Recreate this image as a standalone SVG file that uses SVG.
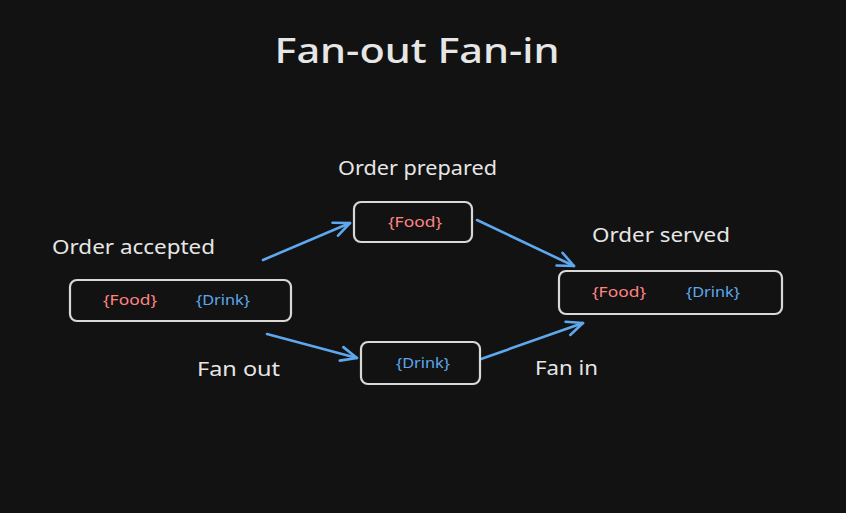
<svg xmlns="http://www.w3.org/2000/svg" width="846" height="513" viewBox="0 0 846 513">
<style>
.bg{fill:#121212}
.box{fill:#121212;stroke:#d8d8d8;stroke-width:2.2}
.lbl{font-family:"Noto Sans","Liberation Sans",sans-serif;fill:#e6e6e6;font-size:20px}
.title{font-family:"Noto Sans","Liberation Sans",sans-serif;fill:#e6e6e6;font-size:34px;font-weight:500}
.food{font-family:"Noto Sans","Liberation Sans",sans-serif;fill:#ff8383;font-size:14px}
.drink{font-family:"Noto Sans","Liberation Sans",sans-serif;fill:#5ea8ee;font-size:14px}
.arr{stroke:#5ea8ee;stroke-width:2.6;fill:none;stroke-linecap:round;marker-end:url(#ah)}
</style>
<defs>
<marker id="ah" viewBox="0 0 20 20" refX="18" refY="10" markerWidth="20" markerHeight="20" markerUnits="userSpaceOnUse" orient="auto">
<path d="M2,3 L18,10 L2,17" fill="none" stroke="#5ea8ee" stroke-width="2.6" stroke-linecap="round" stroke-linejoin="round"/>
</marker>
</defs>
<rect class="bg" x="0" y="0" width="846" height="513"/>
<text class="title" x="417" y="63" text-anchor="middle" textLength="285" lengthAdjust="spacingAndGlyphs">Fan-out Fan-in</text>
<g id="connectors">
<path class="arr" d="M263,260 L350,223"/>
<path class="arr" d="M477,220 L574,266"/>
<path class="arr" d="M267,334 L357,358"/>
<path class="arr" d="M481,359 L583,323"/>
</g>
<g id="order-accepted">
<text class="lbl" x="52" y="254" textLength="163" lengthAdjust="spacingAndGlyphs">Order accepted</text>
<rect class="box" x="70" y="280" width="221" height="41" rx="7"/>
<text class="food" x="130" y="305" text-anchor="middle" textLength="54" lengthAdjust="spacingAndGlyphs">{Food}</text>
<text class="drink" x="223" y="305" text-anchor="middle" textLength="54" lengthAdjust="spacingAndGlyphs">{Drink}</text>
</g>
<g id="order-prepared">
<text class="lbl" x="338" y="175" textLength="159" lengthAdjust="spacingAndGlyphs">Order prepared</text>
<rect class="box" x="354" y="202" width="118" height="40" rx="7"/>
<text class="food" x="415" y="227" text-anchor="middle" textLength="54" lengthAdjust="spacingAndGlyphs">{Food}</text>
</g>
<g id="drink-node">
<rect class="box" x="361" y="342" width="119" height="42" rx="7"/>
<text class="drink" x="423" y="368" text-anchor="middle" textLength="54" lengthAdjust="spacingAndGlyphs">{Drink}</text>
</g>
<g id="order-served">
<text class="lbl" x="592" y="242" textLength="138" lengthAdjust="spacingAndGlyphs">Order served</text>
<rect class="box" x="559" y="271" width="223" height="43" rx="7"/>
<text class="food" x="619" y="297" text-anchor="middle" textLength="54" lengthAdjust="spacingAndGlyphs">{Food}</text>
<text class="drink" x="713" y="297" text-anchor="middle" textLength="54" lengthAdjust="spacingAndGlyphs">{Drink}</text>
</g>
<g id="labels">
<text class="lbl" x="197" y="376" textLength="83" lengthAdjust="spacingAndGlyphs">Fan out</text>
<text class="lbl" x="535" y="375" textLength="63" lengthAdjust="spacingAndGlyphs">Fan in</text>
</g>
</svg>
